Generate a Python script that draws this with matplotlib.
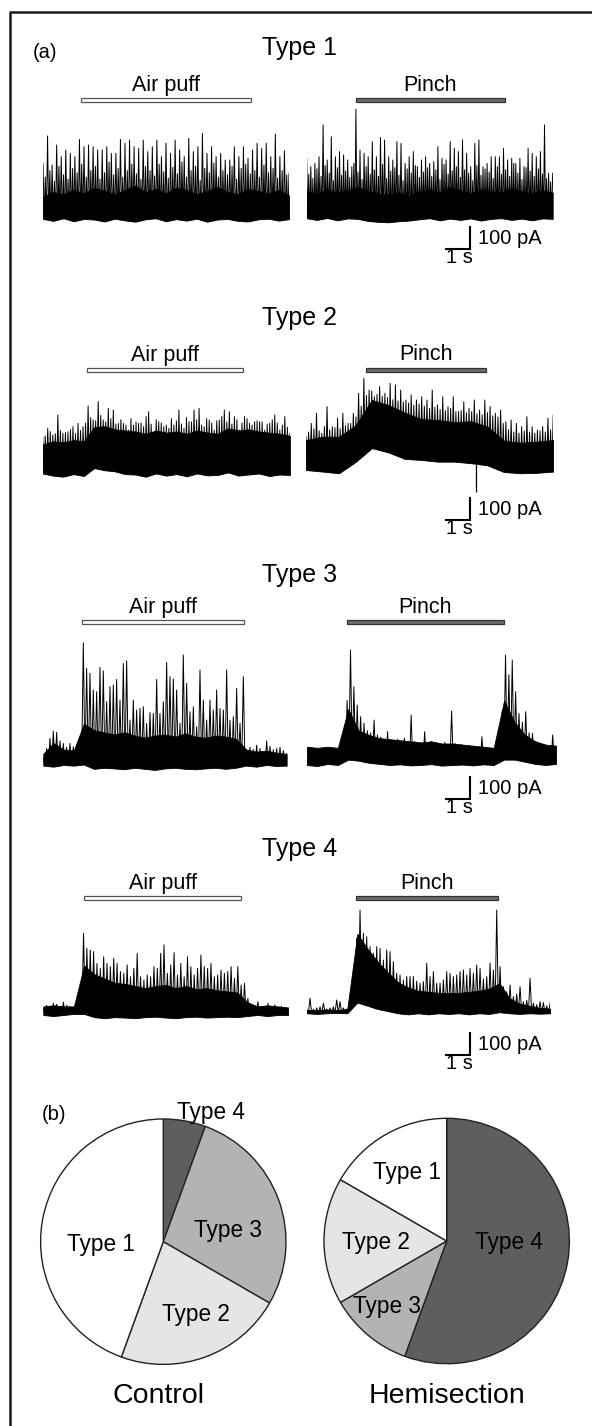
import numpy as np
import matplotlib
matplotlib.use("Agg")
import matplotlib.pyplot as plt
from matplotlib.lines import Line2D
from matplotlib.patches import Rectangle
from matplotlib.transforms import blended_transform_factory

plt.rcParams['font.family'] = ['Liberation Sans', 'DejaVu Sans']

# ---------------------------------------------------------------- data
type_names = ["Type 1", "Type 2", "Type 3", "Type 4"]
stim_names = ["Air puff", "Pinch"]
scale_pa = 100   # pA
scale_s = 1      # s

# durations (s) and stimulus windows (s) of each trace
t1_air_dur, t1_pin_dur = 10.25, 10.25
t2_air_dur, t2_pin_dur = 10.30, 10.30
t3_air_dur, t3_pin_dur = 10.14, 10.39
t4_air_dur, t4_pin_dur = 10.20, 10.14
t1_air_stim, t1_pin_stim = [1.58, 8.67], [2.05, 8.26]
t2_air_stim, t2_pin_stim = [1.83, 8.33], [2.50, 7.50]
t3_air_stim, t3_pin_stim = [1.63, 8.38], [1.68, 8.22]
t4_air_stim, t4_pin_stim = [1.71, 8.25], [2.05, 7.97]

# large spike peaks (pA, evenly spaced over the trace)
t1_air_spk = [264, 391, 256, 349, 295, 326, 310, 295, 375, 341, 349, 341, 326, 326, 341, 310, 310, 375, 357, 372,
              341, 333, 372, 318, 341, 372, 295, 357, 310, 372, 326, 295, 380, 318, 341, 403, 310, 341, 295, 310,
              279, 279, 341, 295, 341, 287, 326, 357, 333, 357, 295, 400, 295, 322, 217]
t1_pin_spk = [284, 245, 260, 291, 439, 276, 384, 291, 315, 299, 276, 245, 512, 322, 307, 291, 361, 291, 381, 369,
              291, 276, 361, 353, 260, 291, 315, 245, 276, 291, 260, 268, 338, 284, 276, 361, 330, 315, 369, 307,
              245, 353, 369, 245, 260, 291, 291, 291, 330, 276, 284, 260, 284, 245, 330, 307, 291, 315, 439, 214, 214]
t2_air_spk = [186, 225, 194, 287, 202, 209, 233, 248, 233, 329, 264, 349, 264, 318, 310, 248, 248, 217, 240, 248,
              233, 302, 202, 256, 233, 225, 240, 310, 225, 256, 310, 318, 233, 264, 217, 264, 310, 302, 279, 217,
              279, 248, 256, 256, 217, 248, 287, 217, 279, 202]
t2_pin_spk = [178, 240, 287, 194, 318, 225, 264, 287, 240, 287, 380, 450, 395, 364, 411, 380, 426, 419, 395, 349,
              372, 349, 364, 349, 395, 326, 364, 318, 364, 295, 341, 310, 349, 302, 349, 318, 287, 302, 248, 256,
              240, 225, 271, 225, 209, 225, 264, 279]
t3_air_spk = [40, 85, 132, 165, 160, 120, 108, 90, 108, 93, 100, 108,
              577, 457, 434, 357, 349, 462, 446, 302, 372, 380, 406, 310, 480, 493, 217, 310, 264, 271, 279, 202,
              251, 248, 406, 248, 302, 485, 419, 408, 357, 202, 519, 388, 256, 279, 186, 450, 310, 217, 310, 264,
              357, 271, 264, 450, 217, 233, 364, 202, 419,
              75, 90, 80, 100, 85, 70, 120, 95, 80, 85, 90, 75, 60]
t3_pin_spk = [40, 55, 35, 60, 45, 50, 40, 55, 45, 50, 60, 45,
              300, 535, 364, 279, 225, 194, 160, 150, 209, 140, 130, 120, 155, 110, 115, 120, 105, 125, 100, 232,
              110, 95, 100, 155, 95, 110, 90, 100, 85, 105, 90, 251, 100, 85, 95, 80, 90, 85, 75, 80, 132, 70,
              75, 60, 70, 65, 250, 511, 420, 488, 341, 240, 200, 248, 150, 147, 110, 100, 95, 85, 80, 140, 75]
t4_air_spk = [30, 45, 40, 55, 50, 35, 60, 45, 40, 35, 30, 40,
              380, 310, 302, 295, 240, 217, 271, 240, 225, 264, 240, 202, 194, 233, 178, 217, 287, 178, 163, 186,
              178, 225, 217, 287, 326, 194, 233, 290, 186, 240, 178, 271, 225, 186, 217, 279, 225, 217, 240, 178,
              186, 209, 194, 202, 225, 171, 225, 140, 147,
              78, 45, 40, 62, 35, 40, 54, 30, 47, 35, 40, 31, 30]
t4_pin_spk = [20, 70, 20, 25, 30, 47, 20, 25, 30, 62, 54, 25, 20, 30, 150, 350, 480, 372, 357, 310,
              280, 310, 302, 248, 295, 287, 240, 186, 178, 155, 171, 171, 171, 150, 140, 147, 233, 171, 194, 140,
              140, 155, 194, 186, 171, 178, 194, 202, 178, 209, 186, 225, 209, 160, 171, 233, 200, 480, 217, 124,
              100, 132, 78, 90, 124, 54, 60, 163, 47, 40, 54, 50, 35, 47]

# smaller spikes between the large ones (pA) for the dense traces
t1_air_mid = [200, 230, 180, 250, 210, 190, 240, 220, 260, 200, 230, 250, 190, 220, 270, 210, 240, 200, 230, 260,
              215, 190, 250, 230, 205, 260, 225, 195, 245, 215, 270, 200, 230, 250, 185, 240, 220, 265, 200, 230,
              210, 250, 190, 240, 260, 215, 230, 200, 255, 220, 240, 195, 230, 210]
t1_pin_mid = [210, 190, 235, 200, 250, 215, 180, 240, 205, 225, 195, 260, 220, 185, 245, 210, 230, 200, 255, 190,
              225, 240, 205, 180, 235, 215, 250, 195, 220, 240, 200, 230, 185, 255, 210, 225, 245, 195, 230, 215,
              180, 250, 205, 235, 220, 190, 245, 210, 230, 200, 260, 215, 185, 240, 225, 200, 235, 210, 190, 175]
t2_air_mid = [190, 210, 200, 215, 205, 220, 200, 215, 250, 275, 260, 285, 255, 270, 245, 265, 240, 270, 255, 250,
              280, 245, 265, 250, 240, 270, 260, 245, 275, 255, 265, 240, 270, 250, 260, 280, 255, 245, 265, 250,
              270, 240, 260, 255, 245, 265, 250, 240, 230]
t2_pin_mid = [200, 215, 205, 225, 210, 220, 215, 230, 240, 270, 320, 370, 390, 375, 365, 360, 350, 345, 340, 335,
              325, 330, 320, 310, 315, 305, 300, 310, 295, 300, 290, 295, 285, 280, 290, 275, 270, 240, 210, 200,
              195, 205, 200, 195, 205, 200, 210]

# dense noise band: upper and lower edge (pA, evenly spaced over the trace)
t1_air_top = [110, 130, 120, 140, 125, 150, 135, 120, 140, 160, 130, 145, 125, 150, 140, 120, 135, 155, 130, 120,
              145, 135, 125, 140, 115]
t1_air_bot = [5, -4, 8, -6, 5, 2, -7, 6, -2, -8, 3, 8, -6, 4, -3, 6, -8, 2, 5, -4, -7, 3, 6, -3, 4]
t1_pin_top = [130, 120, 140, 125, 135, 150, 130, 120, 115, 125, 110, 130, 140, 125, 150, 135, 120, 140, 130, 125,
              145, 130, 120, 135, 125]
t1_pin_bot = [5, -3, 6, -5, 4, 2, -8, -12, -14, -9, -6, 0, 5, -5, 3, -3, 4, -6, 2, 5, -3, 3, -5, 4, 2]
t2_air_top = [150, 165, 160, 170, 165, 230, 235, 220, 215, 210, 200, 215, 205, 210, 200, 215, 205, 200, 225, 215,
              220, 210, 205, 200, 190]
t2_air_bot = [15, 5, 0, 12, 3, 40, 30, 25, 12, 10, 0, 15, 5, 12, 2, 15, 6, 8, 20, 5, 10, 15, 3, 10, 8]
t2_pin_top = [163, 178, 178, 230, 349, 325, 290, 260, 256, 245, 250, 225, 160, 150, 155, 163]
t2_pin_bot = [23, 16, 8, 60, 125, 105, 75, 70, 62, 62, 55, 45, 14, 8, 10, 16]
t2_pin_dip = [7.07, -78]   # time (s), pA
t3_air_top = [60, 110, 80, 75, 200, 170, 160, 150, 160, 145, 135, 145, 150, 140, 155, 140, 135, 145, 140, 130,
              80, 70, 75, 65, 60]
t3_air_bot = [5, 0, 8, 5, 10, -10, -5, -8, -12, -5, -10, -15, -8, -5, -10, -12, -8, -5, -10, -5, 5, 0, 8, 3, 5]
t3_pin_top = [85, 80, 85, 80, 260, 160, 140, 125, 120, 115, 110, 105, 110, 100, 100, 95, 90, 85, 80, 300,
              200, 140, 110, 95, 90]
t3_pin_bot = [0, -5, 5, 0, 25, 20, 10, 5, 0, 3, -2, 0, 4, -3, 0, 2, -2, 3, 0, 25, 25, 15, 5, 0, 5]
t4_air_top = [40, 45, 40, 40, 230, 190, 170, 150, 145, 135, 125, 135, 140, 125, 135, 120, 125, 115, 110, 105,
              60, 40, 45, 40, 35]
t4_air_bot = [0, -5, 0, 5, 5, -10, -15, -10, -12, -15, -10, -8, -12, -15, -10, -8, -12, -10, -8, -10,
              -5, 0, -5, 0, 0]
t4_pin_top = [15, 15, 18, 15, 20, 370, 300, 240, 190, 145, 120, 105, 100, 95, 95, 95, 100, 105, 115, 140,
              70, 45, 35, 25, 22]
t4_pin_bot = [0, -3, 0, 2, 0, 50, 35, 20, 10, 0, -5, 0, -5, 0, -3, 0, -5, 0, -3, 5, 0, -3, 0, -2, 0]

# pie charts: counts in order Type 4, Type 3, Type 2, Type 1 (clockwise from 12 o'clock)
pie_labels = ["Type 4", "Type 3", "Type 2", "Type 1"]
control_counts = [1, 5, 4, 8]
hemisection_counts = [10, 2, 3, 3]
pie_titles = ["Control", "Hemisection"]

# ---------------------------------------------------------------- layout
W, H = 592, 1426
PX_PER_S = 24.0
PX_PER_PA = 21.5 / 100.0

fig = plt.figure(figsize=(W / 100, H / 100), dpi=100)
fig.patch.set_facecolor('white')


def fx(x):
    return x / W


def fy(y):
    return 1 - y / H


def px_axes(x0, y0, x1, y1):
    return fig.add_axes([fx(x0), fy(y1), (x1 - x0) / W, (y1 - y0) / H])


# frame (only top and left sides visible)
fig.add_artist(Line2D([fx(10), fx(10), fx(W + 5)], [fy(H + 5), fy(12), fy(12)],
                      transform=fig.transFigure, color='#1a1a1a', lw=1.8))

fig.text(fx(33), fy(58), "(a)", fontsize=14.5, ha='left', va='baseline')
fig.text(fx(42), fy(1120), "(b)", fontsize=14.5, ha='left', va='baseline')

rows = [
    (t1_air_dur, t1_air_spk, t1_air_mid, t1_air_top, t1_air_bot, t1_air_stim,
     t1_pin_dur, t1_pin_spk, t1_pin_mid, t1_pin_top, t1_pin_bot, t1_pin_stim, None),
    (t2_air_dur, t2_air_spk, t2_air_mid, t2_air_top, t2_air_bot, t2_air_stim,
     t2_pin_dur, t2_pin_spk, t2_pin_mid, t2_pin_top, t2_pin_bot, t2_pin_stim, t2_pin_dip),
    (t3_air_dur, t3_air_spk, None, t3_air_top, t3_air_bot, t3_air_stim,
     t3_pin_dur, t3_pin_spk, None, t3_pin_top, t3_pin_bot, t3_pin_stim, None),
    (t4_air_dur, t4_air_spk, None, t4_air_top, t4_air_bot, t4_air_stim,
     t4_pin_dur, t4_pin_spk, None, t4_pin_top, t4_pin_bot, t4_pin_stim, None),
]

# pixel layout of each row
title_base = [55, 325, 582, 856]
bar_y = [99.7, 369.5, 621.7, 897.7]
air_left = [43, 42.7, 43.3, 43.3]
pin_left = [306.7, 306, 306.7, 306.7]
air_ref = [220, 476.7, 766.7, 1015]
pin_ref = [219.3, 475, 765, 1013.3]
scale_top = [227, 498, 777, 1033]
scale_x = 470


def draw_trace(ax, dur, spk, mid, top, bot):
    tb = np.linspace(0, dur, len(top))
    ax.fill_between(tb, bot, top, facecolor='black', edgecolor='black', lw=0.6)
    ts = np.linspace(0, dur, len(spk))
    step = ts[1] - ts[0]
    xs, ys = [], []
    for k in range(len(ts)):
        xs.append(ts[k])
        ys.append(spk[k])
        if k == len(ts) - 1:
            break
        if mid is not None:
            xs += [ts[k] + step * 0.25, ts[k] + step * 0.5, ts[k] + step * 0.75]
            ys += [np.interp(ts[k] + step * 0.25, tb, bot), mid[k],
                   np.interp(ts[k] + step * 0.75, tb, bot)]
        else:
            xs.append(ts[k] + step * 0.5)
            ys.append(np.interp(ts[k] + step * 0.5, tb, bot))
    ax.plot(xs, ys, color='black', lw=0.7)


def make_trace_axes(left, ref, dur):
    ax = px_axes(left, ref - 150, left + dur * PX_PER_S, ref + 30)
    ax.set_xlim(0, dur)
    ax.set_ylim(-30 / PX_PER_PA, 150 / PX_PER_PA)
    ax.axis('off')
    return ax


def stim_bar(ax, stim, y, name, filled):
    tr = blended_transform_factory(ax.transData, fig.transFigure)
    rect = Rectangle((stim[0], fy(y + 2)), stim[1] - stim[0], 4 / H, transform=tr,
                     facecolor='#6a6a6a' if filled else 'white',
                     edgecolor='#333333' if filled else '#555555', lw=0.9, clip_on=False)
    ax.add_patch(rect)
    ax.text((stim[0] + stim[1]) / 2, fy(y - 9), name, transform=tr, ha='center', va='baseline',
            fontsize=15.5, clip_on=False)


for i, row in enumerate(rows):
    (ad, aspk, amid, atop, abot, astim, pd_, pspk, pmid, ptop, pbot, pstim, dip) = row
    fig.text(fx(300), fy(title_base[i]), type_names[i], fontsize=18, ha='center', va='baseline')

    ax_a = make_trace_axes(air_left[i], air_ref[i], ad)
    draw_trace(ax_a, ad, aspk, amid, atop, abot)
    stim_bar(ax_a, astim, bar_y[i], stim_names[0], False)

    ax_p = make_trace_axes(pin_left[i], pin_ref[i], pd_)
    draw_trace(ax_p, pd_, pspk, pmid, ptop, pbot)
    if dip is not None:
        base = np.interp(dip[0], np.linspace(0, pd_, len(pbot)), pbot)
        ax_p.vlines(dip[0], dip[1], base, color='black', lw=0.9)
    stim_bar(ax_p, pstim, bar_y[i], stim_names[1], True)

    # scale bar (data units of the pinch trace)
    xr = (scale_x - pin_left[i]) / PX_PER_S
    yb = (pin_ref[i] - (scale_top[i] + scale_pa * PX_PER_PA)) / PX_PER_PA
    ax_p.plot([xr - scale_s, xr, xr], [yb, yb, yb + scale_pa], color='black', lw=1.5,
              solid_joinstyle='miter', clip_on=False)
    ax_p.text(xr + 8 / PX_PER_S, (pin_ref[i] - (scale_top[i] + 17)) / PX_PER_PA, f"{scale_pa} pA",
              ha='left', va='baseline', fontsize=14.5, clip_on=False)
    ax_p.text(xr - scale_s / 2 + 0.05, (pin_ref[i] - (scale_top[i] + 36)) / PX_PER_PA, f"{scale_s} s",
              ha='center', va='baseline', fontsize=14.5, clip_on=False)

# ---------------------------------------------------------------- pies
pie_colors = ["#5e5e5e", "#b3b3b3", "#e5e5e5", "#ffffff"]
pie_centers = [(163.3, 1241.7), (446.7, 1241.0)]
pie_r = 122.7
pie_label_px = [
    [(211, 1113), (228, 1231), (196, 1315), (101, 1244)],
    [(509, 1242), (387, 1307), (376, 1242), (407, 1173)],
]
title_x = [159, 447]

for j, counts in enumerate([control_counts, hemisection_counts]):
    cx, cy = pie_centers[j]
    ax = px_axes(cx - pie_r, cy - pie_r, cx + pie_r, cy + pie_r)
    ax.pie(counts, colors=pie_colors, startangle=90, counterclock=False, radius=1,
           wedgeprops=dict(edgecolor='#222222', linewidth=1.0))
    ax.set_xlim(-1, 1)
    ax.set_ylim(-1, 1)
    ax.set_aspect('auto')
    ax.axis('off')
    for k, lab in enumerate(pie_labels):
        lx, ly = pie_label_px[j][k]
        ax.text((lx - cx) / pie_r, (cy - ly) / pie_r, lab, ha='center', va='center',
                fontsize=16.3, clip_on=False)
    fig.text(fx(title_x[j]), fy(1403), pie_titles[j], fontsize=20.5, ha='center', va='baseline')

fig.savefig("out.png", dpi=100, facecolor='white')
